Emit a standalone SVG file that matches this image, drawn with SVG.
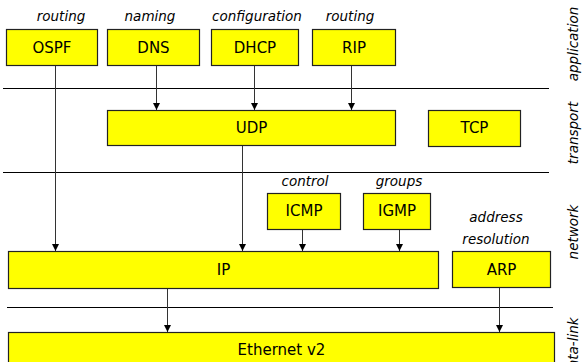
<svg xmlns="http://www.w3.org/2000/svg" width="583" height="362" viewBox="0 0 583 362">
<style>
.box{fill:#ffff00;stroke:#222;stroke-width:1.2}
.lbl{font-family:"DejaVu Sans","Liberation Sans",sans-serif;font-size:15px;fill:#000;text-anchor:middle}
.note{font-family:"DejaVu Sans","Liberation Sans",sans-serif;font-size:13.5px;font-style:italic;fill:#000;text-anchor:middle}
.sep{stroke:#000;stroke-width:1}
.conn{stroke:#333;stroke-width:1;fill:none;marker-end:url(#arr)}
</style>
<defs>
<marker id="arr" markerUnits="userSpaceOnUse" markerWidth="8" markerHeight="8" refX="7" refY="4" orient="auto">
<path d="M0,0.5 L7,4 L0,7.5 Z" fill="#000"/>
</marker>
</defs>
<rect width="583" height="362" fill="#fff"/>
<g id="separators">
<line class="sep" x1="3" y1="88.5" x2="549" y2="88.5"/>
<line class="sep" x1="3" y1="172.5" x2="549" y2="172.5"/>
<line class="sep" x1="7" y1="307.5" x2="553" y2="307.5"/>
</g>
<g id="layers">
<text class="note" transform="translate(578,44) rotate(-90)">application</text>
<text class="note" transform="translate(578,133) rotate(-90)">transport</text>
<text class="note" transform="translate(578,232) rotate(-90)">network</text>
<text class="note" transform="translate(578,347) rotate(-90)">data-link</text>
</g>
<g id="connectors">
<line class="conn" x1="55.5" y1="65" x2="55.5" y2="251"/>
<line class="conn" x1="156.5" y1="65" x2="156.5" y2="110"/>
<line class="conn" x1="254.5" y1="65" x2="254.5" y2="110"/>
<line class="conn" x1="351.5" y1="65" x2="351.5" y2="110"/>
<line class="conn" x1="242.5" y1="145" x2="242.5" y2="251"/>
<line class="conn" x1="302.5" y1="229" x2="302.5" y2="251"/>
<line class="conn" x1="399.5" y1="229" x2="399.5" y2="251"/>
<line class="conn" x1="167.5" y1="288" x2="167.5" y2="332"/>
<line class="conn" x1="499.5" y1="287" x2="499.5" y2="332"/>
</g>
<g id="ospf"><text class="note" x="61" y="21">routing</text><rect class="box" x="6.5" y="29.5" width="91" height="36"/><text class="lbl" x="52" y="53">OSPF</text></g>
<g id="dns"><text class="note" x="150" y="21">naming</text><rect class="box" x="107.5" y="29.5" width="92" height="36"/><text class="lbl" x="153.5" y="53">DNS</text></g>
<g id="dhcp"><text class="note" x="257" y="21">configuration</text><rect class="box" x="211.5" y="29.5" width="87" height="36"/><text class="lbl" x="255" y="53">DHCP</text></g>
<g id="rip"><text class="note" x="350" y="21">routing</text><rect class="box" x="312.5" y="29.5" width="83" height="36"/><text class="lbl" x="354" y="53">RIP</text></g>
<g id="udp"><rect class="box" x="107.5" y="110.5" width="288" height="35"/><text class="lbl" x="251.5" y="133">UDP</text></g>
<g id="tcp"><rect class="box" x="428.5" y="110.5" width="92" height="36"/><text class="lbl" x="474.5" y="133">TCP</text></g>
<g id="icmp"><text class="note" x="305" y="186">control</text><rect class="box" x="267.5" y="193.5" width="73" height="36"/><text class="lbl" x="304" y="216">ICMP</text></g>
<g id="igmp"><text class="note" x="399" y="186">groups</text><rect class="box" x="363.5" y="193.5" width="67" height="36"/><text class="lbl" x="397" y="216">IGMP</text></g>
<g id="ip"><rect class="box" x="8.5" y="251.5" width="430" height="37"/><text class="lbl" x="223.5" y="275">IP</text></g>
<g id="arp"><text class="note" x="496" y="222">address</text><text class="note" x="496" y="244">resolution</text><rect class="box" x="452.5" y="251.5" width="98" height="36"/><text class="lbl" x="501.5" y="275">ARP</text></g>
<g id="ethernet"><rect class="box" x="8.5" y="332.5" width="546" height="36"/><text class="lbl" x="281.5" y="355">Ethernet v2</text></g>
</svg>
